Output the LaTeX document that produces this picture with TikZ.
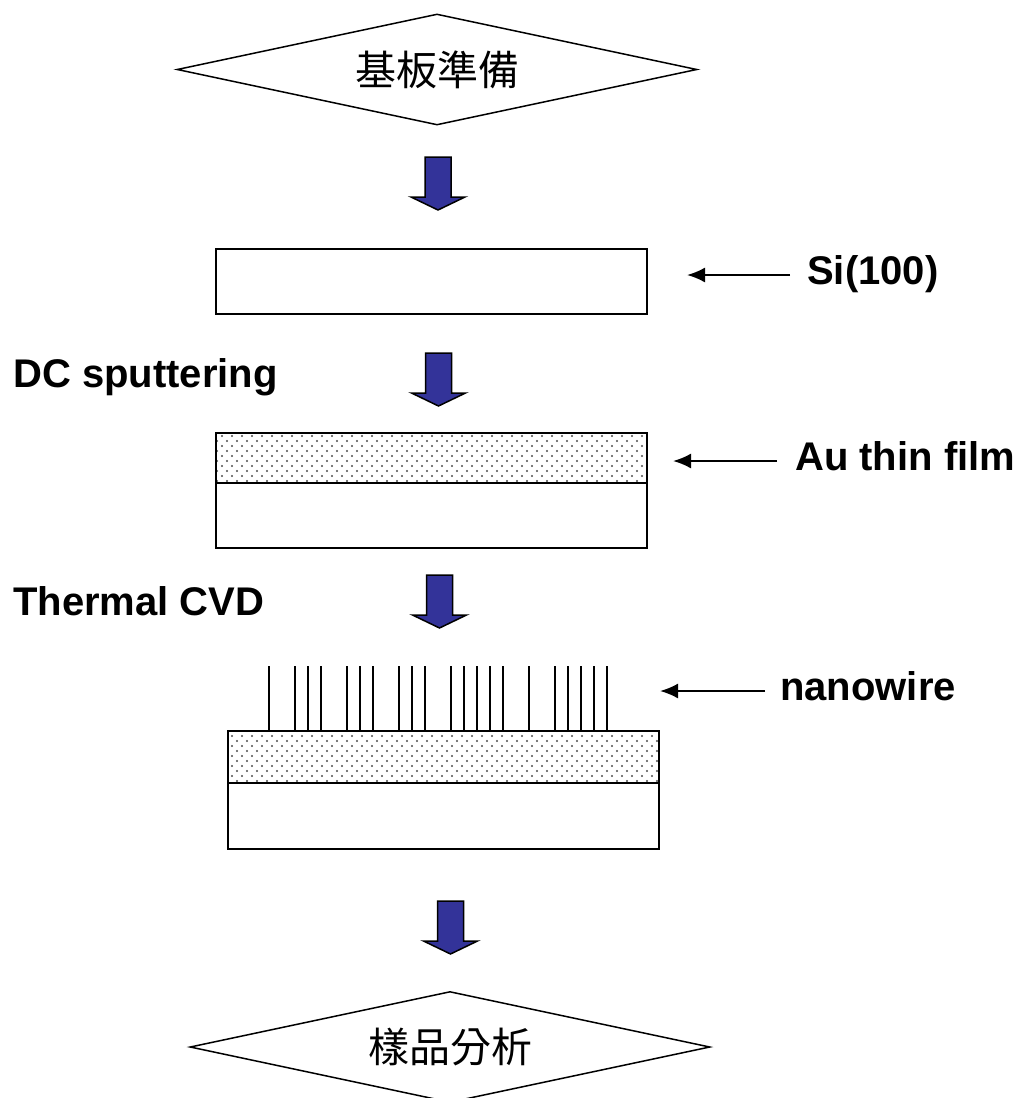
\documentclass[tikz,border=0pt]{standalone}
\usepackage{fontspec}
\setmainfont{Liberation Sans}
\newfontfamily\cjk{Noto Sans CJK TC}
\usepackage{tikz}
\usetikzlibrary{
    shapes.geometric,
    patterns,
    arrows.meta
}
\definecolor{arrowblue}{RGB}{51,51,153}
\pgfdeclarepatternformonly{audots}{\pgfqpoint{-1pt}{-1pt}}{\pgfqpoint{11pt}{11pt}}{\pgfqpoint{10pt}{10pt}}{
    \pgfpathcircle{\pgfqpoint{2pt}{2pt}}{1.1pt}
    \pgfpathcircle{\pgfqpoint{7pt}{7pt}}{1.1pt}
    \pgfusepath{fill}
}
\tikzset{
    >=Latex,
    decision/.style={
        diamond,
        draw,
        line width=1.5pt,
        inner sep=0pt,
        aspect=4.68,
        minimum width=520pt,
        minimum height=111pt,
        font=\cjk\fontsize{41}{48}\selectfont
    },
    stepnote/.style={
        anchor=base west,
        inner sep=0pt,
        font=\fontsize{40}{48}\selectfont\bfseries
    },
    layer/.style={
        draw,
        line width=2.2pt
    },
    film/.style={
        layer,
        pattern=audots,
        pattern color=black!70
    },
    pointer/.style={
        -{Latex[length=18pt,width=15pt]},
        line width=2pt
    },
    flowarrow/.pic={
        \draw[fill=arrowblue, line width=1.5pt]
            (-13,0) -- (13,0) -- (13,40) -- (27,40) -- (0,53)
            -- (-27,40) -- (-13,40) -- cycle;
    }
}

\begin{document}
\begin{tikzpicture}[
    x=1pt,
    y=-1pt
]
    \useasboundingbox (0,0) rectangle (1023,1098);
    \clip (0,0) rectangle (1023,1098);

    % Inicio y fin
    \node[decision] (prep) at (437,69.5) {基板準備};
    \node[decision] (anal) at (450,1047) {樣品分析};

    % Flechas de proceso
    \pic (f1) at (438,157) {flowarrow};
    \pic (f2) at (438.5,353) {flowarrow};
    \pic (f3) at (439.5,575) {flowarrow};
    \pic (f4) at (450.5,901) {flowarrow};

    % Pasos
    \node[stepnote] (dc)  at (13,387) {DC sputtering};
    \node[stepnote] (cvd) at (13,615) {Thermal CVD};

    % Sustrato
    \draw[layer] (216,249) rectangle (647,314);

    % Sustrato con Au
    \draw[film]  (216,433) rectangle (647,483);
    \draw[layer] (216,483) rectangle (647,548);

    % Sustrato con nanohilos
    \foreach \k in {0,2,3,4,6,7,8,10,11,12,14,15,16,17,18,20,22,23,24,25,26}
        \draw[line width=2pt] (269+13*\k,666) -- (269+13*\k,731);
    \draw[film]  (228,731) rectangle (659,783);
    \draw[layer] (228,783) rectangle (659,849);

    % Etiquetas
    \node[stepnote] (si)   at (807,284) {Si(100)};
    \node[stepnote] (au)   at (795,470) {Au thin film};
    \node[stepnote] (wire) at (780,700) {nanowire};

    \coordinate (si tip)   at (687,275);
    \coordinate (au tip)   at (673,461);
    \coordinate (wire tip) at (660,691);

    \draw[pointer] ([xshift=-17pt]si.west |- si tip) -- (si tip);
    \draw[pointer] ([xshift=-18pt]au.west |- au tip) -- (au tip);
    \draw[pointer] ([xshift=-15pt]wire.west |- wire tip) -- (wire tip);

\end{tikzpicture}
\end{document}
